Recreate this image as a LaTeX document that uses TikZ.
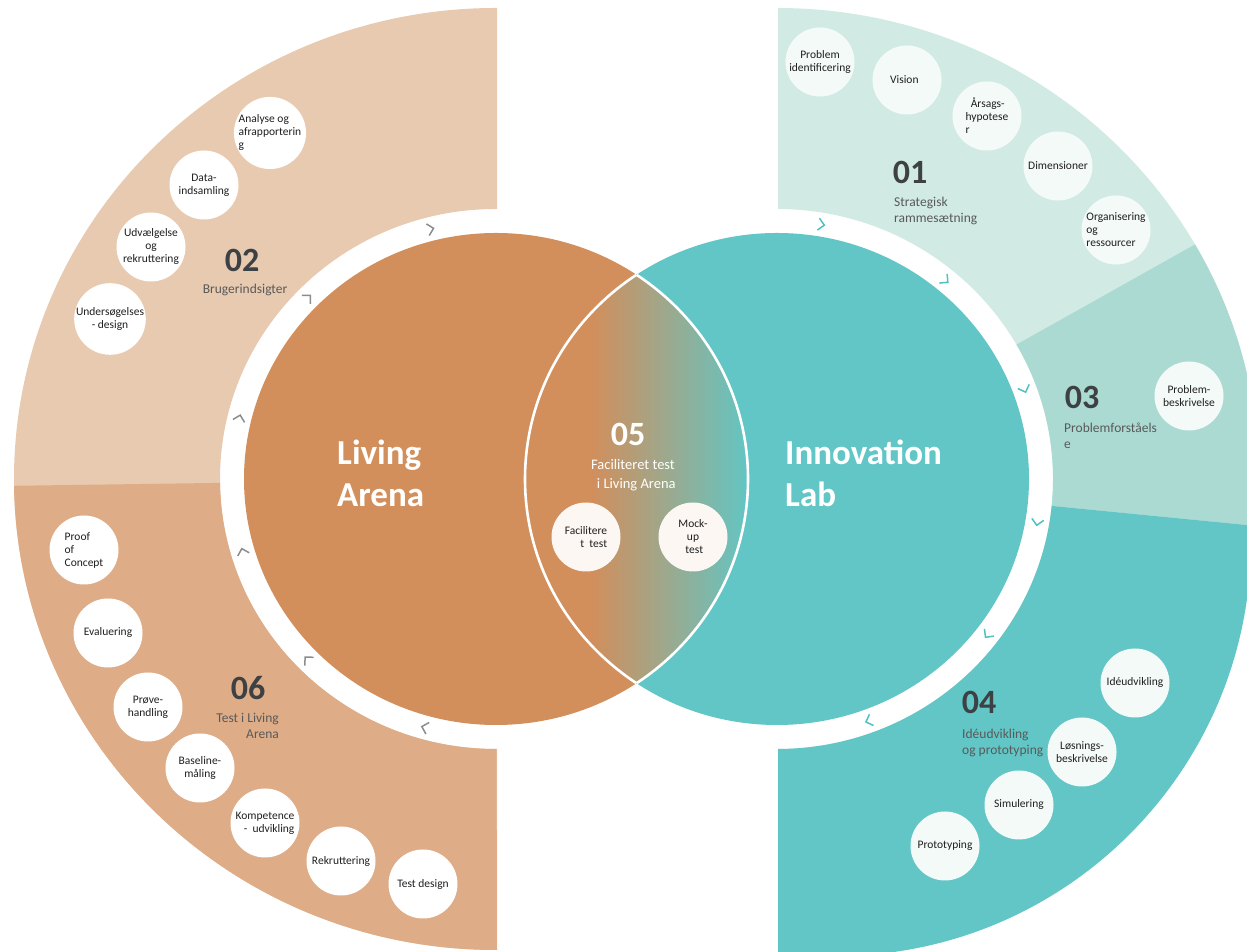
\documentclass[tikz,border=0pt]{standalone}
\usepackage{fontspec}
\setmainfont{Carlito}
\usetikzlibrary{calc}

\definecolor{laLight}{RGB}{232,202,176}
\definecolor{laDark}{RGB}{222,173,136}
\definecolor{laMain}{RGB}{210,142,91}
\definecolor{ilLight}{RGB}{209,235,228}
\definecolor{ilMid}{RGB}{171,218,211}
\definecolor{ilMain}{RGB}{97,198,197}
\definecolor{numGray}{RGB}{62,65,68}
\definecolor{capGray}{RGB}{89,89,89}
\definecolor{chevGray}{RGB}{140,140,140}
\definecolor{chevTeal}{RGB}{80,192,192}

\begin{document}
\begin{tikzpicture}[x=1pt,y=1pt,
    stepcirc/.style={circle,fill=white,minimum size=69pt,inner sep=0pt,align=center,text=black!88,font=\fontsize{11.5}{13}\selectfont},
    numtxt/.style={text=numGray,inner sep=0pt,font=\fontsize{34}{36}\selectfont\bfseries},
    captxt/.style={text=capGray,inner sep=0pt,align=left,font=\fontsize{13.5}{16}\selectfont},
    bigtxt/.style={text=white,inner sep=0pt,align=left,anchor=west,font=\fontsize{35}{42}\selectfont\bfseries},
    chevL/.style={draw=chevGray,line width=1.5pt},
    chevR/.style={draw=chevTeal,line width=1.5pt}]
    \useasboundingbox (0,0) rectangle (1247,952);

    % Centres of the two big circles
    \coordinate (cL) at (496,473);
    \coordinate (cR) at (777,473);

    % Left half ring: 02 above, 06 below
    \begin{scope}
        \clip (0,0) rectangle (497,952);
        \fill[laLight,even odd rule] (cL) ellipse [x radius=482,y radius=471] (cL) ellipse [x radius=276,y radius=270];
        \clip (cL) -- (0,466) -- (0,0) -- (497,0) -- cycle;
        \fill[laDark,even odd rule] (cL) ellipse [x radius=482,y radius=471] (cL) ellipse [x radius=276,y radius=270];
    \end{scope}

    % Right half ring: 01, 03, 04
    \begin{scope}
        \clip (778,0) rectangle (1247,952);
        \fill[ilLight,even odd rule] (cR) ellipse [x radius=482,y radius=471] (cR) ellipse [x radius=276,y radius=270];
        \begin{scope}
            \clip (cR) -- +(29.3:900) -- +(-5.6:900) -- cycle;
            \fill[ilMid,even odd rule] (cR) ellipse [x radius=482,y radius=471] (cR) ellipse [x radius=276,y radius=270];
        \end{scope}
        % 04 sector is a bit wider
        \clip (cR) -- +(-5.6:900) -- (1700,-100) -- (777,-100) -- cycle;
        \fill[ilMain,even odd rule] (836,411) circle [radius=415] (cR) ellipse [x radius=276,y radius=270];
    \end{scope}

    % Living Arena and Innovation Lab
    \fill[laMain] (cL) ellipse [x radius=252,y radius=246];
    \fill[ilMain] (cR) ellipse [x radius=252,y radius=246];

    % Overlap (05) with gradient
    \begin{scope}
        \clip (cL) ellipse [x radius=252,y radius=246];
        \clip (cR) ellipse [x radius=252,y radius=246];
        \fill[laMain] (520,0) rectangle (592,952);
        \fill[left color=laMain,right color=ilMain] (591,0) rectangle (750,952);
    \end{scope}
    \begin{scope}
        \clip (cL) ellipse [x radius=252,y radius=246];
        \draw[white,line width=2.6pt] (cR) ellipse [x radius=252,y radius=246];
    \end{scope}
    \begin{scope}
        \clip (cR) ellipse [x radius=252,y radius=246];
        \draw[white,line width=2.6pt] (cL) ellipse [x radius=252,y radius=246];
    \end{scope}

    % Chevrons on the white rings (clockwise)
    \draw[chevL,shift={($(cL)+(104:264 and 258)$)},rotate=14] (-4.5,6) -- (1.5,0) -- (-4.5,-6);
    \draw[chevL,shift={($(cL)+(135:264 and 258)$)},rotate=45] (-4.5,6) -- (1.5,0) -- (-4.5,-6);
    \draw[chevL,shift={($(cL)+(166:264 and 258)$)},rotate=76] (-4.5,6) -- (1.5,0) -- (-4.5,-6);
    \draw[chevL,shift={($(cL)+(196:264 and 258)$)},rotate=106] (-4.5,6) -- (1.5,0) -- (-4.5,-6);
    \draw[chevL,shift={($(cL)+(224:264 and 258)$)},rotate=134] (-4.5,6) -- (1.5,0) -- (-4.5,-6);
    \draw[chevL,shift={($(cL)+(254:264 and 258)$)},rotate=164] (-4.5,6) -- (1.5,0) -- (-4.5,-6);
    \draw[chevR,shift={($(cR)+(80:264 and 258)$)},rotate=-10] (-4.5,6) -- (1.5,0) -- (-4.5,-6);
    \draw[chevR,shift={($(cR)+(50:264 and 258)$)},rotate=-40] (-4.5,6) -- (1.5,0) -- (-4.5,-6);
    \draw[chevR,shift={($(cR)+(20:264 and 258)$)},rotate=-70] (-4.5,6) -- (1.5,0) -- (-4.5,-6);
    \draw[chevR,shift={($(cR)+(-10:264 and 258)$)},rotate=-100] (-4.5,6) -- (1.5,0) -- (-4.5,-6);
    \draw[chevR,shift={($(cR)+(-37.5:264 and 258)$)},rotate=-127.5] (-4.5,6) -- (1.5,0) -- (-4.5,-6);
    \draw[chevR,shift={($(cR)+(-70:264 and 258)$)},rotate=-160] (-4.5,6) -- (1.5,0) -- (-4.5,-6);

    % Big labels
    \node[bigtxt] (living) at (337,479) {Living\\Arena};
    \node[bigtxt] (innolab) at (785,479) {Innovation\\Lab};

    % 02 Brugerindsigter
    \node[numtxt] (n02) at (242,692) {02};
    \node[captxt] (c02) at (245,662) {Brugerindsigter};
    \node[stepcirc,align=left] (analyse) at (270,819) {Analyse og\\afrapporterin\\g};
    \node[stepcirc] (data) at (204,767) {Data-\\indsamling};
    \node[stepcirc] (udvalg) at (151,705) {Udvælgelse\\og\\rekruttering};
    \node[stepcirc] (undersog) at (110,633) {Undersøgelses\\- design};

    % 06 Test i Living Arena
    \node[numtxt] (n06) at (248,264) {06};
    \node[captxt,align=right,anchor=east] (c06) at (279,226) {Test i Living\\Arena};
    \node[stepcirc,align=left] (proof) at (84,402) {Proof\\of\\Concept};
    \node[stepcirc] (evaluer) at (108,319) {Evaluering};
    \node[stepcirc] (prove) at (148,245) {Prøve-\\handling};
    \node[stepcirc] (baseline) at (200,184) {Baseline-\\måling};
    \node[stepcirc,align=right] (kompet) at (265,129) {Kompetence\\- \ udvikling};
    \node[stepcirc] (rekrut) at (341,91) {Rekruttering};
    \node[stepcirc] (testdes) at (423,68) {Test design};

    % 01 Strategisk rammesætning
    \node[numtxt] (n01) at (910,780) {01};
    \node[captxt,anchor=west] (c01) at (894,741.5) {Strategisk\\rammesætning};
    \node[stepcirc,fill=ilLight!25] (probid) at (820,890) {Problem\\identificering};
    \node[stepcirc,fill=ilLight!25] (vision) at (907,872) {Vision\ \ };
    \node[stepcirc,fill=ilLight!25,align=left] (aarsag) at (987,836) {\ \ Årsags-\\hypotese\\r};
    \node[stepcirc,fill=ilLight!25] (dimens) at (1058,786) {Dimensioner};
    \node[stepcirc,fill=ilLight!25,align=left] (organis) at (1116,722) {Organisering\\og\\ressourcer};

    % 03 Problemforståelse
    \node[numtxt] (n03) at (1082,555) {03};
    \node[captxt,anchor=west] (c03) at (1064,516.5) {Problemforståels\\e};
    \node[stepcirc,fill=ilLight!25] (probbes) at (1189,556) {Problem-\\beskrivelse};

    % 04 Idéudvikling og prototyping
    \node[numtxt] (n04) at (979,250) {04};
    \node[captxt,anchor=west] (c04) at (962,209) {Idéudvikling\\og prototyping};
    \node[stepcirc,fill=ilLight!25] (ideud) at (1135,269) {Idéudvikling};
    \node[stepcirc,fill=ilLight!25] (losning) at (1082,200) {Løsnings-\\beskrivelse};
    \node[stepcirc,fill=ilLight!25] (simul) at (1019,147) {Simulering};
    \node[stepcirc,fill=ilLight!25] (prototyp) at (945,106) {Prototyping};

    % 05 Faciliteret test
    \node[numtxt,text=white] (n05) at (628,518) {05};
    \node[captxt,text=white,align=center,font=\fontsize{14.5}{19}\selectfont] (c05) at (633,476.5) {Faciliteret test\\\ \ i Living Arena};
    \node[stepcirc,fill=laLight!15,align=right] (facil) at (586,415) {Facilitere\\t \ test};
    \node[stepcirc,fill=laLight!15] (mockup) at (693,415) {Mock-\\up\\\ test};
\end{tikzpicture}
\end{document}
